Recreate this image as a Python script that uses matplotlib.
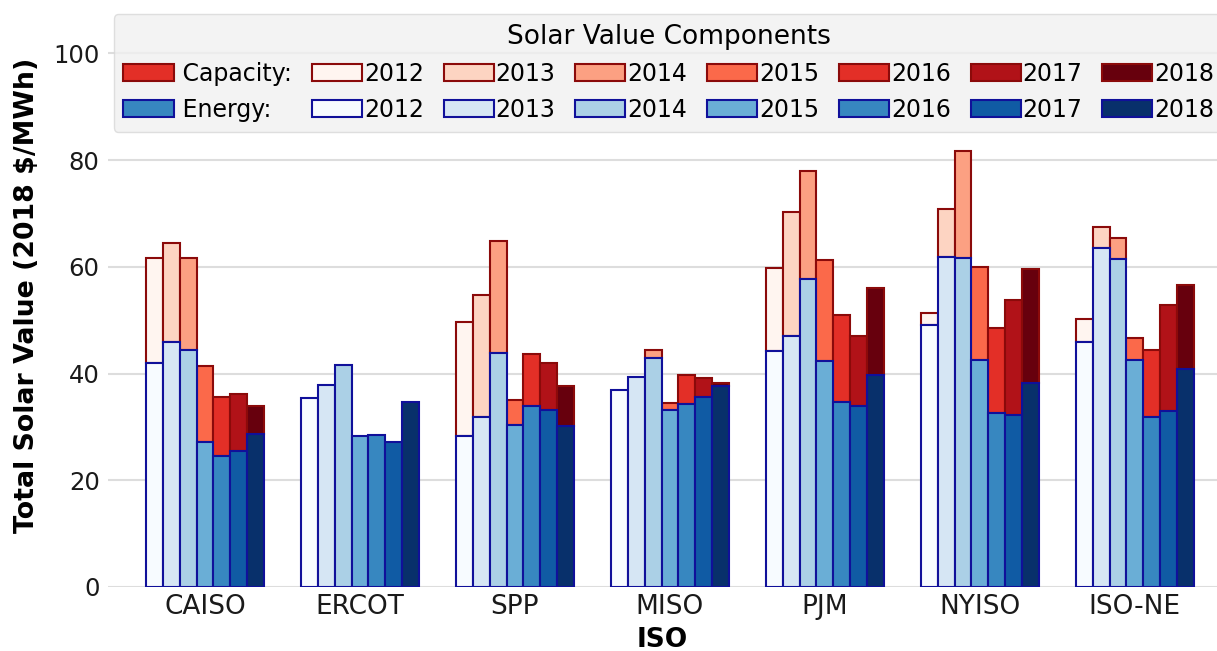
import numpy as np
import matplotlib
matplotlib.use("Agg")
import matplotlib.pyplot as plt
from matplotlib.patches import Patch

isos = ["CAISO", "ERCOT", "SPP", "MISO", "PJM", "NYISO", "ISO-NE"]
years = ["2012", "2013", "2014", "2015", "2016", "2017", "2018"]

# Energy value per ISO, years 2012..2018 ($/MWh)
energy_caiso = [41.9, 45.9, 44.5, 27.1, 24.6, 25.5, 28.75]
energy_ercot = [35.5, 37.9, 41.6, 28.25, 28.4, 27.2, 34.6]
energy_spp = [28.3, 31.9, 43.9, 30.3, 33.9, 33.2, 30.1]
energy_miso = [36.9, 39.4, 43.0, 33.1, 34.25, 35.6, 37.75]
energy_pjm = [44.25, 47.1, 57.7, 42.4, 34.75, 33.9, 39.8]
energy_nyiso = [49.1, 61.9, 61.6, 42.6, 32.6, 32.25, 38.2]
energy_isone = [45.9, 63.5, 61.4, 42.6, 31.9, 32.9, 40.9]

# Capacity value per ISO, years 2012..2018 ($/MWh)
capacity_caiso = [19.7, 18.5, 17.1, 14.3, 11.0, 10.75, 5.25]
capacity_ercot = [0, 0, 0, 0, 0, 0, 0]
capacity_spp = [21.3, 22.8, 21.0, 4.7, 9.7, 8.8, 7.6]
capacity_miso = [0, 0, 1.4, 1.3, 5.45, 3.5, 0.55]
capacity_pjm = [15.45, 23.2, 20.3, 18.85, 16.15, 13.2, 16.3]
capacity_nyiso = [2.3, 9.0, 20.15, 17.4, 16.0, 21.55, 21.4]
capacity_isone = [4.4, 3.9, 4.0, 4.1, 12.5, 20.0, 15.7]

energy = np.array([energy_caiso, energy_ercot, energy_spp, energy_miso,
                   energy_pjm, energy_nyiso, energy_isone])
capacity = np.array([capacity_caiso, capacity_ercot, capacity_spp, capacity_miso,
                     capacity_pjm, capacity_nyiso, capacity_isone])

plt.rcParams['font.family'] = ['DejaVu Sans']

fig = plt.figure(figsize=(12.17, 6.51), dpi=100)
ax = fig.add_axes([108 / 1217, 64 / 651, 1 - 108 / 1217, 1 - 64 / 651])

blues = plt.cm.Blues(np.linspace(0, 1, 7))
reds = plt.cm.Reds(np.linspace(0, 1, 7))
blue_edge = '#10109a'
red_edge = '#8b0a0a'

x = np.arange(len(isos))
w = 0.1088
for j in range(len(years)):
    xpos = x + (j - 3) * w
    cap = capacity[:, j]
    mask = cap > 0
    ax.bar(xpos[mask], cap[mask], w, bottom=energy[mask, j], color=reds[j],
           edgecolor=red_edge, linewidth=1.5, zorder=2)
    ax.bar(xpos, energy[:, j], w, color=blues[j], edgecolor=blue_edge,
           linewidth=1.5, zorder=3)

ax.set_xlim(-0.626, 6.53)
ax.set_ylim(0, 110)
ax.set_yticks([0, 20, 40, 60, 80, 100])
ax.set_xticks(x)
ax.set_xticklabels(isos)
ax.tick_params(axis='x', length=0, labelsize=19, colors='#1a1a1a', pad=5)
ax.tick_params(axis='y', length=0, labelsize=17.5, colors='#1a1a1a', pad=6)
ax.grid(axis='y', color='#dddddd', linewidth=1.5, zorder=0)
ax.set_axisbelow(True)
for s in ax.spines.values():
    s.set_visible(False)
ax.set_xlabel("ISO", fontsize=19, fontweight='bold', labelpad=5)
ax.set_ylabel("Total Solar Value (2018 $/MWh)", fontsize=19.3, fontweight='bold')
ax.yaxis.set_label_coords(-0.0615, 0.4975)

handles = []
labels = []
handles.append(Patch(facecolor=reds[4], edgecolor=red_edge, linewidth=1.5))
labels.append(" Capacity:")
handles.append(Patch(facecolor=blues[4], edgecolor=blue_edge, linewidth=1.5))
labels.append(" Energy:")
for j, yr in enumerate(years):
    handles.append(Patch(facecolor=reds[j], edgecolor=red_edge, linewidth=1.5))
    labels.append(yr)
    handles.append(Patch(facecolor=blues[j], edgecolor=blue_edge, linewidth=1.5))
    labels.append(yr)

leg = ax.legend(handles, labels, ncol=8, loc='upper left',
                bbox_to_anchor=(0.005, 0.976), fontsize=17,
                title="Solar Value Components", title_fontsize=19,
                handlelength=2.12, handleheight=0.77, handletextpad=0.08,
                columnspacing=0.84, labelspacing=0.5, frameon=True,
                fancybox=True, borderpad=0.42, borderaxespad=0)
frame = leg.get_frame()
frame.set_facecolor('#f0f0f0')
frame.set_edgecolor('#d8d8d8')
frame.set_alpha(0.8)
leg.set_zorder(5)

fig.savefig("out.png", dpi=100)
